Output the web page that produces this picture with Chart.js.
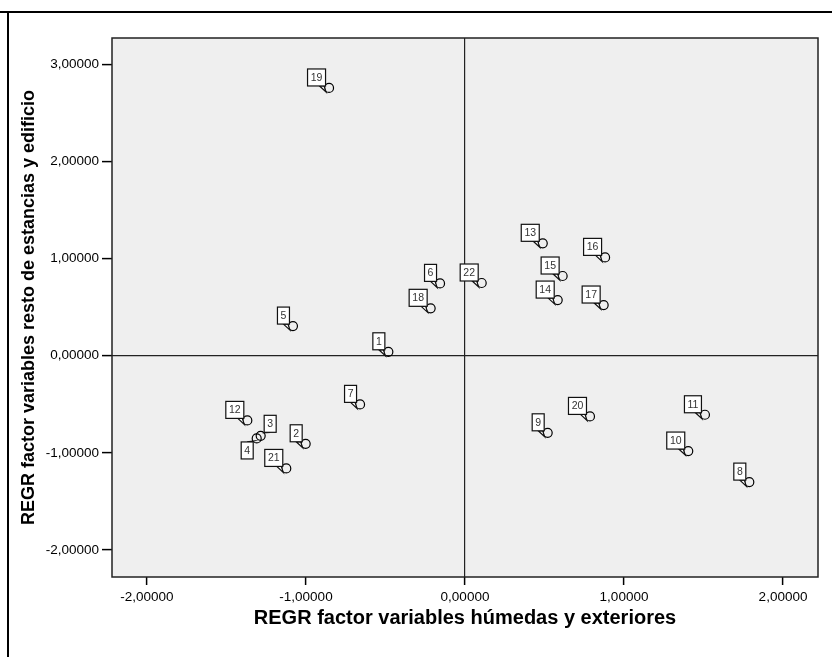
<!DOCTYPE html>
<html lang="es">
<head>
<meta charset="UTF-8">
<title>REGR factor scatter</title>
<script src="https://cdn.jsdelivr.net/npm/chart.js"></script>
<style>
  body { margin: 0; background: #fff; }
  canvas { display: block; }
</style>
</head>
<body>
<canvas id="scatterChart" width="832" height="657"></canvas>
<script>
// case numbers and the two factor scores
const caseIds = [1, 2, 3, 4, 5, 6, 7, 8, 9, 10, 11, 12, 13, 14, 15, 16, 17, 18, 19, 20, 21, 22];
const factorHumedas = [-0.482, -1.002, -1.285, -1.310, -1.082, -0.157, -0.660, 1.788, 0.520, 1.404, 1.509,
                       -1.369, 0.489, 0.583, 0.614, 0.881, 0.872, -0.216, -0.855, 0.786, -1.124, 0.105];
const factorResto = [0.041, -0.907, -0.825, -0.852, 0.306, 0.746, -0.501, -1.302, -0.794, -0.982, -0.608,
                     -0.666, 1.159, 0.574, 0.822, 1.014, 0.523, 0.489, 2.760, -0.625, -1.161, 0.750];
const xTicks = [-2, -1, 0, 1, 2];
const yTicks = [-2, -1, 0, 1, 2, 3];
const xTitle = 'REGR factor variables húmedas y exteriores';
const yTitle = 'REGR factor variables resto de estancias y edificio';

// where a case label sits relative to its point (default is up-left)
const labelSide = { 3: 'upRight', 4: 'downLeft' };

const FONT = 'Arial, "Liberation Sans", sans-serif';

function fmt(v) {
    return Number(v).toFixed(5).replace('.', ',');
}

function zeroLine(ctx) {
    return ctx.tick && ctx.tick.value === 0 ? '#222' : 'rgba(0,0,0,0)';
}

const framePlugin = {
    id: 'frame',
    beforeDraw(chart) {
        const { ctx, chartArea: a } = chart;
        ctx.save();
        ctx.fillStyle = '#efefef';
        ctx.fillRect(a.left, a.top, a.right - a.left, a.bottom - a.top);
        ctx.restore();
    },
    afterDraw(chart) {
        const { ctx, chartArea: a } = chart;
        ctx.save();
        ctx.strokeStyle = '#222';
        ctx.lineWidth = 1.5;
        ctx.strokeRect(a.left, a.top, a.right - a.left, a.bottom - a.top);
        // outer frame, top and left only
        ctx.strokeStyle = '#000';
        ctx.lineWidth = 2;
        ctx.beginPath();
        ctx.moveTo(0, 12);
        ctx.lineTo(chart.width, 12);
        ctx.moveTo(8, 12);
        ctx.lineTo(8, chart.height);
        ctx.stroke();
        ctx.restore();
    }
};

const caseLabelPlugin = {
    id: 'caseLabels',
    afterDatasetsDraw(chart) {
        const ctx = chart.ctx;
        const meta = chart.getDatasetMeta(0);
        ctx.save();
        ctx.font = '10.5px ' + FONT;
        ctx.lineWidth = 1.2;
        meta.data.forEach((pt, i) => {
            const id = caseIds[i];
            const txt = String(id);
            const cx = pt.x, cy = pt.y;
            const w = Math.round(ctx.measureText(txt).width) + 6;
            const h = 17;
            const side = labelSide[id] || 'upLeft';
            let bx, by, tail;
            if (side === 'upRight') {
                bx = cx + 3.5; by = cy - 3.5 - h;
                tail = [[bx + 1.5, by + h], [bx + 6, by + h], [cx + 2, cy - 3]];
            } else if (side === 'downLeft') {
                bx = cx - 3.5 - w; by = cy + 3.5;
                tail = [[bx + w - 6, by], [bx + w - 1.5, by], [cx - 2.5, cy + 2.5]];
            } else {
                bx = cx - 3.5 - w; by = cy - 2 - h;
                tail = [[bx + w - 6, by + h], [bx + w - 1.5, by + h], [cx - 3, cy + 4]];
            }
            ctx.fillStyle = '#fff';
            ctx.strokeStyle = '#111';
            ctx.beginPath();
            ctx.moveTo(tail[0][0], tail[0][1]);
            ctx.lineTo(tail[2][0], tail[2][1]);
            ctx.lineTo(tail[1][0], tail[1][1]);
            ctx.closePath();
            ctx.fill();
            ctx.stroke();
            ctx.fillRect(bx, by, w, h);
            ctx.strokeRect(bx, by, w, h);
            ctx.fillStyle = '#333';
            ctx.textAlign = 'center';
            ctx.textBaseline = 'middle';
            ctx.fillText(txt, bx + w / 2, by + h / 2 + 0.5);
        });
        ctx.restore();
    }
};

const points = caseIds.map((id, i) => ({ x: factorHumedas[i], y: factorResto[i] }));

new Chart(document.getElementById('scatterChart'), {
    type: 'scatter',
    data: {
        datasets: [{
            data: points,
            pointRadius: 4.5,
            pointHoverRadius: 4.5,
            borderWidth: 1.2,
            borderColor: '#000',
            backgroundColor: 'rgba(0,0,0,0)'
        }]
    },
    options: {
        responsive: false,
        animation: false,
        devicePixelRatio: 1,
        layout: { padding: { top: 38, right: 14, bottom: 0, left: 0 } },
        plugins: {
            legend: { display: false },
            tooltip: { enabled: false }
        },
        scales: {
            x: {
                type: 'linear',
                min: -2.22,
                max: 2.22,
                afterFit: s => { s.height = 80; },
                afterBuildTicks: s => { s.ticks = xTicks.map(v => ({ value: v })); },
                ticks: {
                    callback: v => fmt(v),
                    font: { family: FONT, size: 13.5 },
                    color: '#000',
                    padding: 4,
                    maxRotation: 0,
                    autoSkip: false
                },
                grid: { color: zeroLine, lineWidth: 1.2, tickColor: '#000', tickLength: 8, tickWidth: 1.5 },
                border: { display: false },
                title: {
                    display: true,
                    text: xTitle,
                    color: '#000',
                    font: { family: FONT, size: 20, weight: 'bold' },
                    padding: { top: 0, bottom: 27 }
                }
            },
            y: {
                type: 'linear',
                min: -2.28,
                max: 3.275,
                afterFit: s => { s.width = 112; },
                afterBuildTicks: s => { s.ticks = yTicks.map(v => ({ value: v })); },
                ticks: {
                    callback: v => fmt(v),
                    font: { family: FONT, size: 13.5 },
                    color: '#000',
                    padding: 3,
                    autoSkip: false
                },
                grid: { color: zeroLine, lineWidth: 1.2, tickColor: '#000', tickLength: 10, tickWidth: 1.5 },
                border: { display: false },
                title: {
                    display: true,
                    text: yTitle,
                    color: '#000',
                    font: { family: FONT, size: 18, weight: 'bold' },
                    padding: { top: 18, bottom: 0 }
                }
            }
        }
    },
    plugins: [framePlugin, caseLabelPlugin]
});
</script>
</body>
</html>
